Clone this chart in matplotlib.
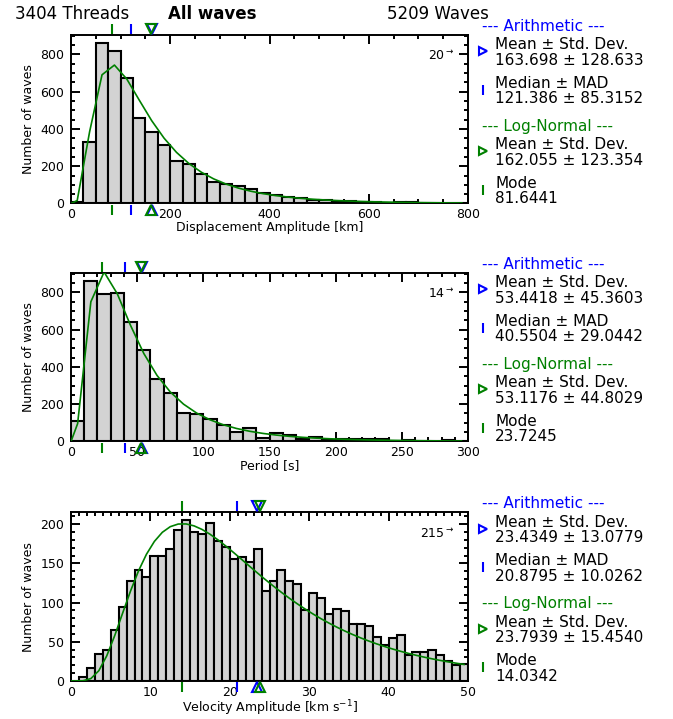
import numpy as np
import matplotlib.pyplot as plt
from matplotlib.ticker import MultipleLocator
from matplotlib.transforms import ScaledTranslation, blended_transform_factory

# Header
n_threads = 3404
n_waves = 5209
title = 'All waves'

# Histogram counts
disp_edges = np.arange(0, 801, 25)
disp_counts = [8, 328, 861, 816, 674, 461, 382, 314, 228, 210, 160, 117, 102, 93, 78, 58,
               48, 35, 27, 21, 18, 12, 11, 7, 8, 5, 6, 10, 5, 5, 0, 0]

period_edges = np.arange(0, 301, 10)
period_counts = [108, 861, 789, 796, 643, 490, 333, 258, 153, 146, 122, 87, 52, 70, 18,
                 45, 34, 11, 23, 10, 12, 14, 12, 14, 4, 7, 5, 5, 7, 2]

vel_edges = np.arange(0, 51, 1)
vel_counts = [0, 5, 17, 34, 39, 65, 94, 127, 142, 132, 160, 160, 169, 192, 205, 190, 188,
              201, 179, 171, 155, 158, 152, 169, 115, 128, 141, 127, 124, 90, 112, 106, 86,
              92, 89, 72, 72, 70, 56, 46, 55, 58, 33, 37, 37, 40, 33, 25, 20, 21]

# waves beyond the right edge of each panel
overflow = [20, 14, 215]

# Statistics printed on the right
arith_mean = [163.698, 53.4418, 23.4349]
arith_std = [128.633, 45.3603, 13.0779]
median = [121.386, 40.5504, 20.8795]
mad = [85.3152, 29.0442, 10.0262]
ln_mean = [162.055, 53.1176, 23.7939]
ln_std = [123.354, 44.8029, 15.4540]
ln_mode = [81.6441, 23.7245, 14.0342]

xlabels = ['Displacement Amplitude [km]', 'Period [s]', r'Velocity Amplitude [km s$^{-1}$]']
xlims = [800, 300, 50]
xmajor = [200, 50, 10]
xminor = [50, 10, 1]
ymajor = [200, 200, 50]
yminor = [50, 50, 10]

edges_all = [disp_edges, period_edges, vel_edges]
counts_all = [disp_counts, period_counts, vel_counts]

BLUE = 'blue'
GREEN = 'green'

fig = plt.figure(figsize=(6.73, 7.19), dpi=100)
bottoms = [0.717, 0.386, 0.053]
axes = [fig.add_axes([0.1055, b, 0.590, 0.2345]) for b in bottoms]


def fmt(v):
    return '%#.6g' % v


def side(ax, dx, dy):
    # offset in pixels from the top-right corner of the axes
    return ax.transAxes + ScaledTranslation(dx / 100, -dy / 100, fig.dpi_scale_trans)


for i, ax in enumerate(axes):
    edges = edges_all[i]
    counts = np.array(counts_all[i])
    binw = edges[1] - edges[0]

    # histogram
    ax.bar(edges[:-1], counts, width=binw, align='edge', color='lightgray',
           edgecolor='black', linewidth=1.5, zorder=2)

    # log-normal fit from the printed mean and std
    s2 = np.log(1 + (ln_std[i] / ln_mean[i]) ** 2)
    mu = np.log(ln_mean[i]) - s2 / 2
    centers = (edges[:-1] + edges[1:]) / 2
    pdf = np.exp(-(np.log(centers) - mu) ** 2 / (2 * s2)) / (centers * np.sqrt(2 * np.pi * s2))
    scale = (n_waves - overflow[i]) * binw
    ax.plot(np.r_[0, centers], np.r_[0, pdf * scale], color=GREEN, lw=1.2, zorder=3)

    ax.set_xlim(0, xlims[i])
    ax.set_ylim(0, 1.05 * counts.max())
    ax.xaxis.set_major_locator(MultipleLocator(xmajor[i]))
    ax.xaxis.set_minor_locator(MultipleLocator(xminor[i]))
    ax.yaxis.set_major_locator(MultipleLocator(ymajor[i]))
    ax.yaxis.set_minor_locator(MultipleLocator(yminor[i]))
    ax.tick_params(which='both', direction='in', top=True, right=True, width=1.4,
                   labelsize=9)
    ax.tick_params(which='major', length=6.5)
    ax.tick_params(which='minor', length=3.2)
    ax.tick_params(axis='y', pad=5)
    for sp in ax.spines.values():
        sp.set_linewidth(1.4)
    ax.set_xlabel(xlabels[i], fontsize=9, labelpad=0)
    ax.set_ylabel('Number of waves', fontsize=9)

    ax.text(0.967, 0.875, '%d$^{\\rightarrow}$' % overflow[i], transform=ax.transAxes,
            ha='right', va='center', fontsize=9)

    # markers above and below the axes
    tr = blended_transform_factory(ax.transData, ax.transAxes)
    mk = dict(transform=tr, clip_on=False, zorder=5, linestyle='none')
    for y, tri in [(1.035, 'v'), (-0.037, '^')]:
        ax.plot([ln_mode[i]], [y], marker='|', color=GREEN, ms=6.5, mew=1.5, **mk)
        ax.plot([median[i]], [y], marker='|', color=BLUE, ms=6.5, mew=1.5, **mk)
        ax.plot([arith_mean[i]], [y], marker=tri, color=BLUE, mfc='none', ms=6.5, mew=1.5, **mk)
        ax.plot([ln_mean[i]], [y], marker=tri, color=GREEN, mfc='none', ms=6.5, mew=1.5, **mk)

    # statistics on the right
    ax.text(1, 1, '--- Arithmetic ---', transform=side(ax, 14, -8.3), color=BLUE,
            fontsize=11, ha='left', va='center')
    ax.text(1, 1, '--- Log-Normal ---', transform=side(ax, 14, 91.7), color=GREEN,
            fontsize=11, ha='left', va='center')
    entries = [
        ('>', BLUE, 16.4, 'Mean \u00b1 Std. Dev.', fmt(arith_mean[i]) + ' \u00b1 ' + fmt(arith_std[i])),
        ('|', BLUE, 54.7, 'Median \u00b1 MAD', fmt(median[i]) + ' \u00b1 ' + fmt(mad[i])),
        ('>', GREEN, 116.4, 'Mean \u00b1 Std. Dev.', fmt(ln_mean[i]) + ' \u00b1 ' + fmt(ln_std[i])),
        ('|', GREEN, 154.7, 'Mode', fmt(ln_mode[i])),
    ]
    for marker, col, dy, line1, line2 in entries:
        ax.plot([1], [1], marker=marker, color=col, mfc='none', ms=6 if marker == '>' else 6.5,
                mew=1.5, clip_on=False, linestyle='none', transform=side(ax, 14.5, dy))
        ax.text(1, 1, line1, transform=side(ax, 27, dy - 6.3), fontsize=11,
                ha='left', va='center')
        ax.text(1, 1, line2, transform=side(ax, 27, dy + 9.3), fontsize=11,
                ha='left', va='center')

fig.text(72 / 673, 1 - 14 / 719, '%d Threads' % n_threads, fontsize=12, ha='center', va='center')
fig.text(212 / 673, 1 - 14 / 719, title, fontsize=12, fontweight='bold', ha='center', va='center')
fig.text(438 / 673, 1 - 14 / 719, '%d Waves' % n_waves, fontsize=12, ha='center', va='center')

fig.savefig('out.png', dpi=100)
